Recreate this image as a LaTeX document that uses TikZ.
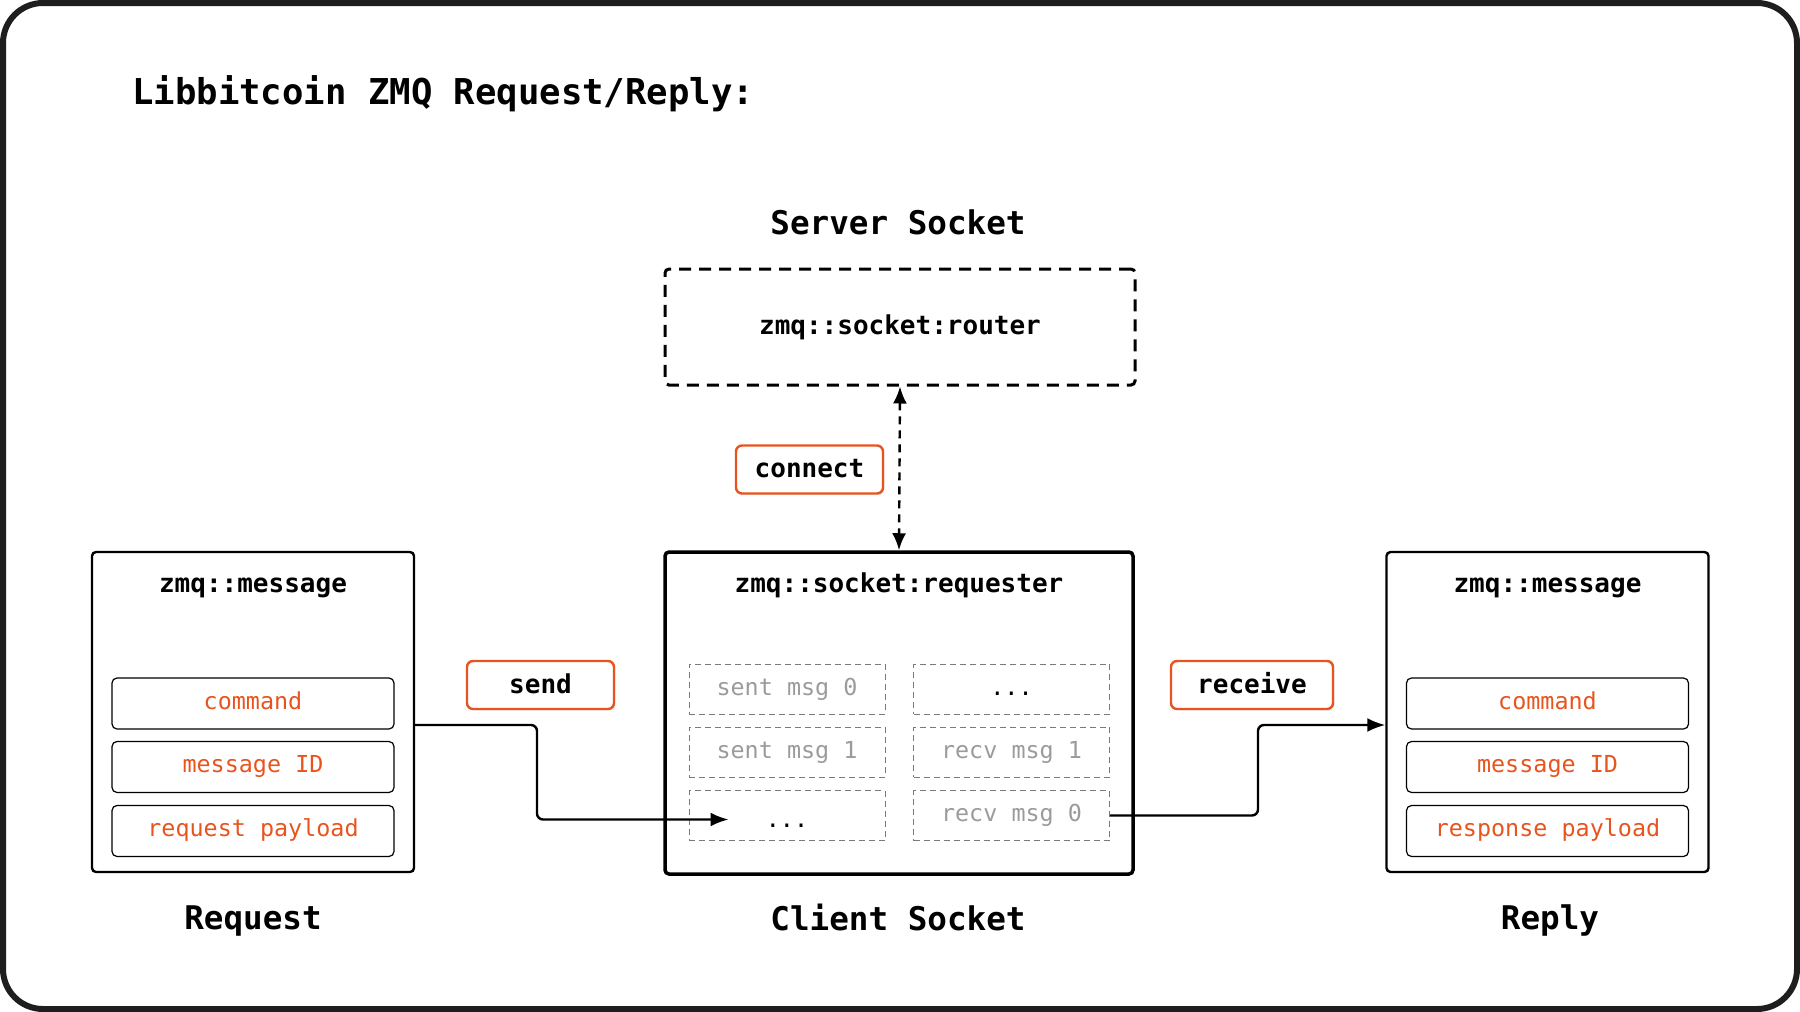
\documentclass[tikz,border=0pt]{standalone}
\usepackage{fontspec}
\setmainfont{DejaVu Sans Mono}
\usetikzlibrary{positioning,shadows,arrows.meta}
\definecolor{zorange}{HTML}{E8541E}
\definecolor{zgray}{HTML}{9B9B9B}
\definecolor{zcell}{HTML}{7A7A7A}
\definecolor{zframe}{HTML}{1E1E1E}
\begin{document}
\begin{tikzpicture}[x=0.5pt,y=-0.5pt,
    msgbox/.style={draw,line width=1.2pt,rounded corners=2pt,minimum width=161pt,minimum height=160pt},
    field/.style={draw,line width=0.6pt,rounded corners=2.5pt,minimum width=141pt,minimum height=25.5pt,
      text height=0.78em,text depth=0.22em,text=zorange,font=\fontsize{11.7}{14}\selectfont},
    cell/.style={draw=zcell,line width=0.5pt,dash pattern=on 3pt off 2pt,minimum width=98pt,minimum height=25pt,
      text height=0.82em,text depth=0.22em,text=zgray,font=\fontsize{11.7}{14}\selectfont},
    tag/.style={draw=zorange,line width=1.2pt,rounded corners=3pt,fill=white,minimum height=24pt,
      text height=1em,text depth=0.2em,font=\bfseries\fontsize{13}{15}\selectfont,
      drop shadow={opacity=0.15,shadow xshift=0.8pt,shadow yshift=-0.8pt}},
    heading/.style={anchor=base,font=\bfseries\fontsize{16.3}{19}\selectfont},
    boxtitle/.style={anchor=base,font=\bfseries\fontsize{13}{15}\selectfont},
    flow/.style={line width=1.2pt,rounded corners=3pt},
    tip/.style={-{Latex[length=9pt,width=7pt]}}]
  \useasboundingbox (0,0) rectangle (1800,1012);
  \draw[zframe,line width=3pt,rounded corners=20pt] (3,3) rectangle (1797,1009);
  \node[anchor=base west,inner sep=0pt,font=\bfseries\fontsize{17.8}{21}\selectfont] at (132,104) (title) {Libbitcoin ZMQ Request/Reply:};

  % server side
  \node[heading] at (898,234) (srvlbl) {Server Socket};
  \node[draw,line width=1.5pt,dash pattern=on 6pt off 4pt,rounded corners=2pt,minimum width=235pt,minimum height=58pt,
    text height=0.95em,text depth=0.2em,font=\bfseries\fontsize{13}{15}\selectfont] at (900,327) (router) {zmq::socket:router};
  \node[tag,minimum width=73.5pt] at (809.5,469.5) (connect) {connect};

  % client socket
  \node[msgbox,line width=1.75pt,minimum width=234pt,minimum height=161pt] at (899,713) (req) {};
  \node[boxtitle] at (899,592) (reqT) {zmq::socket:requester};
  \node[cell] at (787,689) (sent0) {sent msg 0};
  \node[cell] at (787,752) (sent1) {sent msg 1};
  \node[cell,text=black] at (787,815.5) (sdots) {\raisebox{-3pt}{...}};
  \node[cell,text=black] at (1011.5,689) (rdots) {...};
  \node[cell] at (1011.5,752) (recv1) {recv msg 1};
  \node[cell] at (1011.5,815.5) (recv0) {recv msg 0};
  \node[heading] at (898,930) (clientlbl) {Client Socket};

  % request
  \node[msgbox] at (253,712) (lmsg) {};
  \node[boxtitle] at (253,592) (lmsgT) {zmq::message};
  \node[field] at (253,703.5) (lcmd) {command};
  \node[field] at (253,767) (lid) {message ID};
  \node[field] at (253,831) (lpay) {request payload};
  \node[heading] at (253,929) (reqlbl) {Request};
  \node[tag,minimum width=73.5pt] at (540.5,685) (send) {send};

  % reply
  \node[msgbox] at (1547.5,712) (rmsg) {};
  \node[boxtitle] at (1547.5,592) (rmsgT) {zmq::message};
  \node[field] at (1547.5,703.5) (rcmd) {command};
  \node[field] at (1547.5,767) (rid) {message ID};
  \node[field] at (1547.5,831) (rpay) {response payload};
  \node[heading] at (1550,929) (replbl) {Reply};
  \node[tag,minimum width=81pt] at (1252,685) (receive) {receive};

  \coordinate (sendbend) at (537,725);
  \coordinate (recvbend) at (1258,725);
  \draw[flow,tip] (lmsg.east |- sendbend) -- (sendbend) |- ([xshift=20pt,yshift=-2pt]sdots.west);
  \draw[flow,tip] (recv0.east) -| (recvbend) -- (rmsg.west |- recvbend);
  \draw[line width=1.2pt,dash pattern=on 4pt off 3pt,{Latex[length=8.5pt,width=7pt]}-{Latex[length=8.5pt,width=7pt]}] (router.south) -- (req.north);
\end{tikzpicture}
\end{document}
